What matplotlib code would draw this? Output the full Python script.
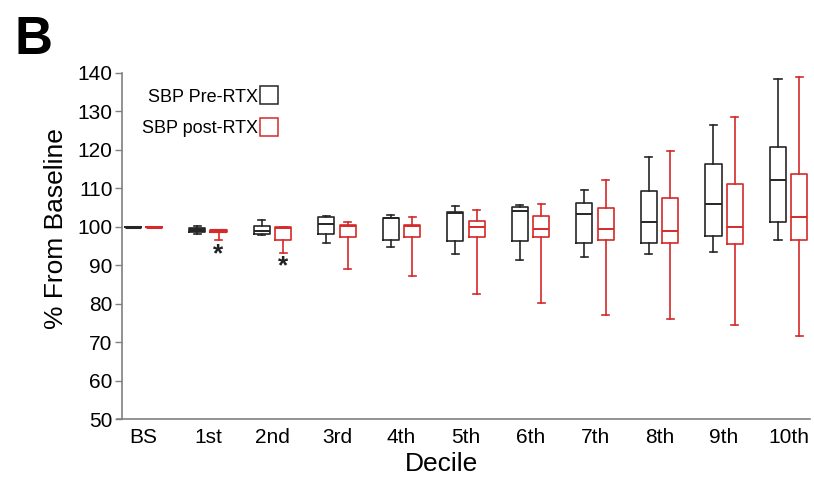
import matplotlib.pyplot as plt
from matplotlib.lines import Line2D

plt.rcParams['font.family'] = ['Liberation Sans', 'DejaVu Sans']

# deciles on the x axis
deciles = ['BS', '1st', '2nd', '3rd', '4th', '5th', '6th', '7th', '8th', '9th', '10th']

# SBP pre-RTX, % from baseline
pre_low = [100, 98.0, 97.9, 95.8, 94.6, 93.0, 91.3, 92.0, 93.0, 93.4, 96.5]
pre_q1 = [100, 98.6, 98.0, 98.0, 96.5, 96.3, 96.3, 95.8, 95.8, 97.6, 101.3]
pre_med = [100, 99.1, 99.0, 100.7, 102.2, 103.5, 104.0, 103.4, 101.3, 106.0, 112.2]
pre_q3 = [100, 99.6, 100.3, 102.5, 102.3, 103.7, 105.2, 106.2, 109.2, 116.3, 120.6]
pre_high = [100, 100.3, 101.7, 102.7, 102.9, 105.3, 105.5, 109.4, 118.0, 126.4, 138.3]

# SBP post-RTX
post_low = [100, 96.5, 93.2, 88.9, 87.2, 82.4, 80.1, 77.2, 76.0, 74.6, 71.5]
post_q1 = [100, 98.6, 96.6, 97.3, 97.3, 97.3, 97.3, 96.5, 95.8, 95.6, 96.5]
post_med = [100, 98.9, 99.6, 100.1, 100.3, 99.9, 99.4, 99.3, 99.0, 99.8, 102.6]
post_q3 = [100, 99.2, 100.0, 100.5, 100.5, 101.5, 102.7, 104.9, 107.5, 111.0, 113.6]
post_high = [100, 99.2, 100.0, 101.2, 102.6, 104.4, 105.8, 112.0, 119.6, 128.4, 138.9]

# significance marks under post-RTX boxes
star_idx = [1, 2]
star_y = [92.8, 89.7]

black = '#262626'
red = '#d42a2a'


def make_stats(lo, q1, med, q3, hi):
    stats = []
    for i in range(len(lo)):
        stats.append({'whislo': lo[i], 'q1': q1[i], 'med': med[i],
                      'q3': q3[i], 'whishi': hi[i], 'fliers': []})
    return stats


fig = plt.figure(figsize=(8.14, 4.87), dpi=100)
ax = fig.add_axes([0.150, 0.139, 0.845, 0.712])

x = list(range(len(deciles)))
off = 0.165
w = 0.25

for stats, shift, col in [(make_stats(pre_low, pre_q1, pre_med, pre_q3, pre_high), -off, black),
                          (make_stats(post_low, post_q1, post_med, post_q3, post_high), off, red)]:
    pos = [i + shift for i in x]
    ax.bxp(stats, positions=pos, widths=w, showfliers=False, capwidths=0.11,
           boxprops=dict(color=col, linewidth=1.2),
           whiskerprops=dict(color=col, linewidth=1.2),
           capprops=dict(color=col, linewidth=1.2),
           medianprops=dict(color=col, linewidth=1.4),
           manage_ticks=False)

# the baseline and 1st decile boxes are almost flat, drawn as thick bars
ax.plot([-off - w / 2, -off + w / 2], [pre_med[0]] * 2, color=black, lw=2.2, solid_capstyle='butt')
ax.plot([off - w / 2, off + w / 2], [post_med[0]] * 2, color=red, lw=2.2, solid_capstyle='butt')
ax.plot([1 - off - w / 2, 1 - off + w / 2], [pre_med[1]] * 2, color=black, lw=3.0, solid_capstyle='butt')
ax.plot([1 + off - w / 2, 1 + off + w / 2], [post_med[1]] * 2, color=red, lw=3.0, solid_capstyle='butt')

for i, yv in zip(star_idx, star_y):
    ax.text(i + off, yv, '*', ha='center', va='center', fontsize=19,
            fontweight='bold', color='#222222')

ax.set_xlim(-0.33, 10.33)
ax.set_ylim(50, 140)
ax.set_yticks(range(50, 141, 10))
ax.set_xticks(x)
ax.set_xticklabels(deciles)
ax.tick_params(axis='x', length=0, labelsize=15, pad=6)
ax.tick_params(axis='y', length=5, width=1, color='#808080', labelsize=15, pad=2)
for s in ['top', 'right']:
    ax.spines[s].set_visible(False)
for s in ['left', 'bottom']:
    ax.spines[s].set_color('#808080')
    ax.spines[s].set_linewidth(1.2)
ax.spines['bottom'].set_bounds(-0.41, 10.33)

ax.set_ylabel('% From Baseline', fontsize=19)
ax.set_xlabel('Decile', fontsize=19)
ax.yaxis.set_label_coords(-0.079, 0.55)
ax.xaxis.set_label_coords(0.465, -0.095)

handles = [Line2D([], [], ls='none', marker='s', markersize=13.5, markerfacecolor='none',
                  markeredgecolor=black, markeredgewidth=1.1),
           Line2D([], [], ls='none', marker='s', markersize=13.5, markerfacecolor='none',
                  markeredgecolor=red, markeredgewidth=1.1)]
ax.legend(handles, ['SBP Pre-RTX', 'SBP post-RTX'], loc='upper left',
          bbox_to_anchor=(0.005, 1.0), frameon=False, markerfirst=False,
          fontsize=13, handletextpad=0.0, labelspacing=0.8, handlelength=1.2)

fig.text(0.018, 0.97, 'B', fontsize=38, fontweight='bold', va='top', ha='left')

fig.savefig('out.png', dpi=100)
